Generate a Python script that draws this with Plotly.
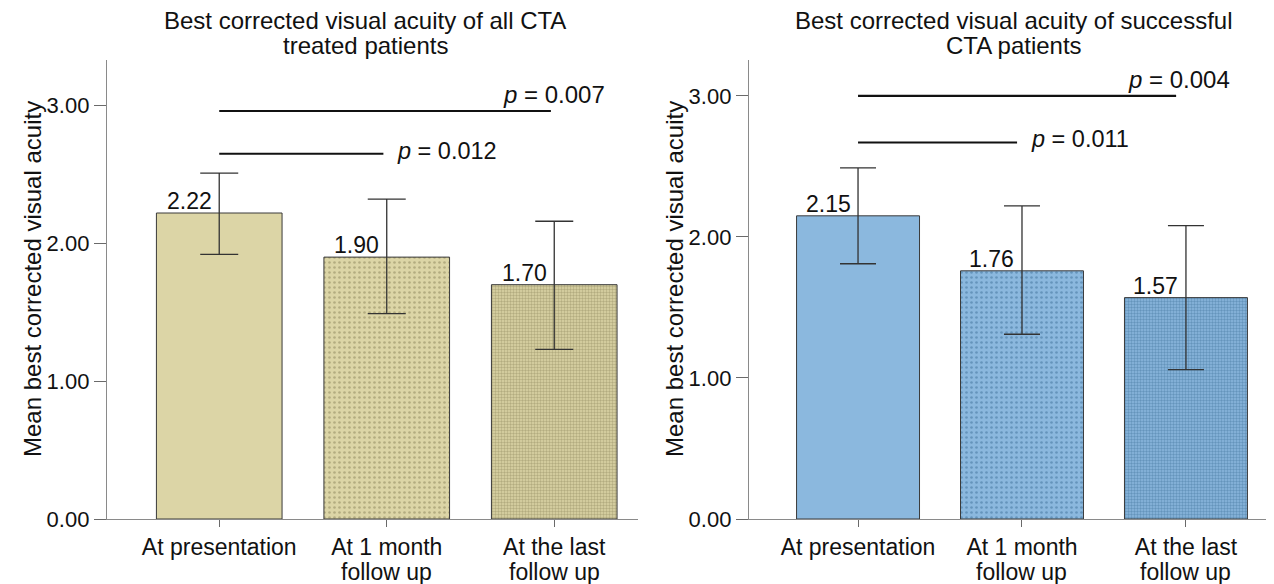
import plotly.graph_objects as go

categories_line1 = ["At presentation", "At 1 month", "At the last"]
categories_line2 = ["", "follow up", "follow up"]

# Left panel: all CTA treated patients
left_means = [2.22, 1.90, 1.70]
left_upper = [2.51, 2.32, 2.16]
left_lower = [1.92, 1.49, 1.23]
left_comparisons = [  # (from index, to index, level, p text)
    (0, 0.98, 2.65, "0.012"),
    (0, 1.98, 2.96, "0.007"),
]

# Right panel: successful CTA patients
right_means = [2.15, 1.76, 1.57]
right_upper = [2.49, 2.22, 2.08]
right_lower = [1.81, 1.31, 1.06]
right_comparisons = [
    (0, 0.97, 2.67, "0.011"),
    (0, 1.94, 3.00, "0.004"),
]

titles = [("Best corrected visual acuity of all CTA", "treated patients"),
          ("Best corrected visual acuity of successful", "CTA patients")]
y_title = "Mean best corrected visual acuity"
tick_vals = [0, 1, 2, 3]
tick_text = ["0.00", "1.00", "2.00", "3.00"]

FONT = "Liberation Sans, Arial, sans-serif"
INK = "#111111"
beige = "#DCD5A6"
blue = "#8BB8DE"

# the page body has an 8px margin, so the figure is drawn 8px in from the window corner
OFF = 8
W, H = 1274 - OFF, 584 - OFF

def px(x):
    return (x - OFF) / W

def py(y):
    return 1 - (y - OFF) / H

fig = go.Figure()

def add_panel(means, upper, lower, comps, color, fg, xa, ya, capw):
    xs = list(range(len(categories_line1)))
    patterns = [dict(shape=""),
                dict(shape=".", size=5, solidity=0.22, fgcolor=fg, fillmode="overlay"),
                dict(shape=".", size=3, solidity=0.5, fgcolor=fg, fillmode="overlay")]
    for i in xs:
        fig.add_trace(go.Bar(
            x=[i], y=[means[i]], width=0.75, xaxis=xa, yaxis=ya,
            marker=dict(color=color, line=dict(color="#3a3a3a", width=1),
                        pattern=patterns[i]),
            error_y=dict(type="data", symmetric=False,
                         array=[upper[i] - means[i]],
                         arrayminus=[means[i] - lower[i]],
                         color="#333333", thickness=1.3, width=capw),
            showlegend=False, hoverinfo="skip"))
        fig.add_annotation(x=i, y=means[i], xref=xa, yref=ya, text=f"{means[i]:.2f}",
                           showarrow=False, xanchor="center", yanchor="bottom",
                           xshift=-30, yshift=-3,
                           font=dict(family=FONT, size=23, color=INK))
        if categories_line2[i]:
            fig.add_annotation(x=i, y=0, xref=xa, yref=f"{ya} domain",
                               text=categories_line2[i], showarrow=False,
                               xanchor="center", yanchor="middle", yshift=-53,
                               font=dict(family=FONT, size=23, color=INK))
    for (a, b, lvl, p) in comps:
        fig.add_trace(go.Scatter(x=[a, b], y=[lvl, lvl], mode="lines", xaxis=xa, yaxis=ya,
                                 line=dict(color=INK, width=2.2),
                                 showlegend=False, hoverinfo="skip"))
    (a1, b1, l1, p1), (a2, b2, l2, p2) = comps
    fig.add_annotation(x=b1, y=l1, xref=xa, yref=ya, text=f"<i>p</i> = {p1}",
                       showarrow=False, xanchor="left", yanchor="middle", xshift=12, yshift=3,
                       font=dict(family=FONT, size=23.5, color=INK))
    fig.add_annotation(x=b2, y=l2, xref=xa, yref=ya, text=f"<i>p</i> = {p2}",
                       showarrow=False, xanchor="center", yanchor="bottom", yshift=1,
                       xshift=3, font=dict(family=FONT, size=24, color=INK))

add_panel(left_means, left_upper, left_lower, left_comparisons, beige, "#8a845a", "x", "y", 19)
add_panel(right_means, right_upper, right_lower, right_comparisons, blue, "#3f6f99", "x2", "y2", 18)

axis_common = dict(showgrid=False, zeroline=False, showline=True, linecolor="#8a8a8a",
                   linewidth=1.3, ticks="outside", tickcolor="#6a6a6a", automargin=False)

xdom_left = [px(107), px(638)]
xdom_right = [px(749), 1.0]
ydom = [py(519), py(60)]

fig.update_layout(
    width=W, height=H, margin=dict(l=0, r=0, t=0, b=0, autoexpand=False),
    paper_bgcolor="white", plot_bgcolor="white", barmode="overlay",
    xaxis=dict(domain=xdom_left, range=[-0.67, 2.5], tickvals=[0, 1, 2],
               ticktext=categories_line1, anchor="y", ticklen=7,
               tickfont=dict(family=FONT, size=23, color=INK), **axis_common),
    yaxis=dict(domain=ydom, range=[0, 3.33], tickvals=tick_vals, ticktext=tick_text,
               anchor="x", ticklen=12, tickfont=dict(family=FONT, size=22, color=INK), **axis_common),
    xaxis2=dict(domain=xdom_right, range=[-0.665, 2.537], tickvals=[0, 1, 2],
                ticktext=categories_line1, anchor="y2", ticklen=7,
                tickfont=dict(family=FONT, size=23, color=INK), **axis_common),
    yaxis2=dict(domain=ydom, range=[0, 3.255], tickvals=tick_vals, ticktext=tick_text,
                anchor="x2", ticklen=12, tickfont=dict(family=FONT, size=22, color=INK), **axis_common),
)

# y-axis titles
for xpix in [32, 674]:
    fig.add_annotation(x=px(xpix), y=py(279), xref="paper", yref="paper", text=y_title,
                       textangle=-90, showarrow=False, xanchor="center", yanchor="middle",
                       font=dict(family=FONT, size=24, color=INK))

# panel titles (two lines each, tight spacing)
for (l1, l2), cxpix in zip(titles, [365, 1014]):
    for txt, ypix in [(l1, 21), (l2, 46)]:
        fig.add_annotation(x=px(cxpix), y=py(ypix), xref="paper", yref="paper", text=txt,
                           showarrow=False, xanchor="center", yanchor="middle",
                           font=dict(family=FONT, size=24, color=INK))

fig.write_html("out.html")
